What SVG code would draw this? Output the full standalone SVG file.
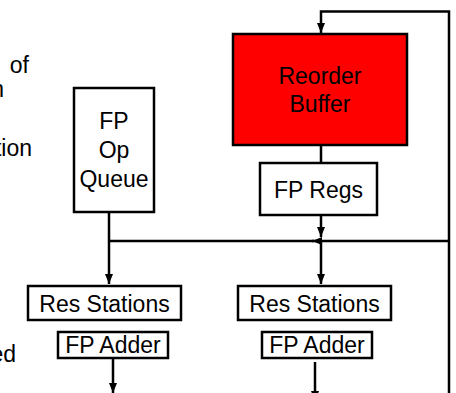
<svg xmlns="http://www.w3.org/2000/svg" width="456" height="393" viewBox="0 0 456 393">
<style>
.box{fill:#fff;stroke:#000;stroke-width:2.5}
.rob{fill:#ff0000;stroke:#000;stroke-width:2.5}
.t{font-family:"Liberation Sans",Arial,sans-serif;font-size:23px;fill:#000;text-anchor:middle}
.e{text-anchor:end}
.c{fill:none;stroke:#000;stroke-width:2.5}
</style>
<defs>
<marker id="ah" markerUnits="userSpaceOnUse" markerWidth="10" markerHeight="10" viewBox="0 0 10 10" refX="10" refY="5" orient="auto">
<path d="M0,1 L10,5 L0,9 Z" fill="#000"/>
</marker>
</defs>
<g id="side-text">
<text class="t e" x="29" y="73">of</text>
<text class="t e" x="4" y="97">n</text>
<text class="t e" x="32" y="156">tion</text>
<text class="t e" x="16" y="362">ed</text>
</g>
<g id="connectors">
<path class="c" d="M449,393 V11.5 H321 V33" marker-end="url(#ah)"/>
<path class="c" d="M321,145 V163"/>
<path class="c" d="M321,215 V237" marker-end="url(#ah)"/>
<path class="c" d="M449,241 H312" marker-end="url(#ah)"/>
<path class="c" d="M314,241 H108"/>
<path class="c" d="M321,241 V284" marker-end="url(#ah)"/>
<path class="c" d="M109,212 V284" marker-end="url(#ah)"/>
<path class="c" d="M113,358 V393" marker-end="url(#ah)"/>
<path class="c" d="M315,362 V401" marker-end="url(#ah)"/>
</g>
<g id="fp-op-queue">
<rect class="box" x="74" y="88" width="80" height="124"/>
<text class="t" x="114" y="129">FP</text>
<text class="t" x="114" y="158">Op</text>
<text class="t" x="114" y="187">Queue</text>
</g>
<g id="reorder-buffer">
<rect class="rob" x="233" y="34" width="174" height="111"/>
<text class="t" x="320" y="84">Reorder</text>
<text class="t" x="320" y="112">Buffer</text>
</g>
<g id="fp-regs">
<rect class="box" x="260" y="163" width="117" height="52"/>
<text class="t" x="318.5" y="198">FP Regs</text>
</g>
<g id="res-stations-left">
<rect class="box" x="28" y="286" width="153" height="34"/>
<text class="t" x="104.5" y="312">Res Stations</text>
</g>
<g id="res-stations-right">
<rect class="box" x="238" y="286" width="153" height="34"/>
<text class="t" x="314.5" y="312">Res Stations</text>
</g>
<g id="fp-adder-left">
<rect class="box" x="58" y="332" width="110" height="26"/>
<text class="t" x="113" y="353">FP Adder</text>
</g>
<g id="fp-adder-right">
<rect class="box" x="262" y="332" width="110" height="26"/>
<text class="t" x="317" y="353">FP Adder</text>
</g>
</svg>
